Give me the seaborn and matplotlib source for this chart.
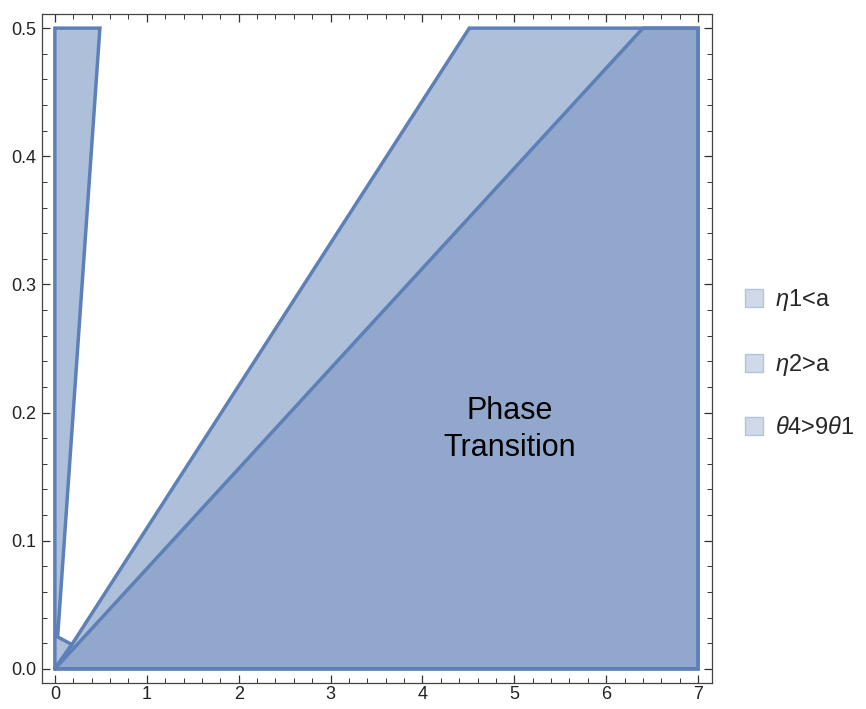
import matplotlib
matplotlib.use("Agg")
import matplotlib.pyplot as plt
from matplotlib.lines import Line2D
from matplotlib.ticker import MultipleLocator
import seaborn as sns

sns.set_style("ticks")
plt.rcParams['font.family'] = ['Liberation Sans', 'DejaVu Sans']
plt.rcParams['mathtext.fontset'] = 'custom'
plt.rcParams['mathtext.it'] = 'Liberation Sans:italic'
plt.rcParams['mathtext.rm'] = 'Liberation Sans'

# Region boundaries (x, y vertices)
eta1_x = [0.0, 0.0, 0.49, 0.03, 0.185, 0.0]
eta1_y = [0.0, 0.5, 0.5, 0.025, 0.019, 0.0]
eta2_x = [0.0, 0.185, 4.51, 7.0, 7.0, 0.0]
eta2_y = [0.0, 0.019, 0.5, 0.5, 0.0, 0.0]
theta_x = [0.0, 6.40, 7.0, 7.0, 0.0]
theta_y = [0.0, 0.5, 0.5, 0.0, 0.0]

labels = [r"$\eta$1<a", r"$\eta$2>a", r"$\theta$4>9$\theta$1"]
annotation = "Phase\nTransition"
ann_x, ann_y = 4.95, 0.187

fill_c = "#829dc6"
edge_c = "#5d80b8"

fig = plt.figure(figsize=(8.66, 7.09), dpi=100)
ax = fig.add_axes([0.0485, 0.0367, 0.7735, 0.9435])

for xs, ys in [(eta1_x, eta1_y), (eta2_x, eta2_y), (theta_x, theta_y)]:
    ax.fill(xs, ys, facecolor=fill_c, alpha=0.65, edgecolor="none", zorder=2)
for xs, ys in [(eta1_x, eta1_y), (eta2_x, eta2_y), (theta_x, theta_y)]:
    ax.plot(xs, ys, color=edge_c, lw=2.5, solid_joinstyle="miter", zorder=3)

ax.text(ann_x, ann_y, annotation, ha="center", va="center", fontsize=22,
        linespacing=1.3, color="black", zorder=4)

ax.set_xlim(-0.14, 7.15)
ax.set_ylim(-0.011, 0.511)
ax.xaxis.set_major_locator(MultipleLocator(1))
ax.xaxis.set_minor_locator(MultipleLocator(0.2))
ax.yaxis.set_major_locator(MultipleLocator(0.1))
ax.yaxis.set_minor_locator(MultipleLocator(0.02))
ax.yaxis.set_major_formatter(matplotlib.ticker.FormatStrFormatter('%.1f'))
ax.tick_params(which="both", direction="in", top=True, right=True,
               color="#333333", labelsize=13, labelcolor="#222222")
ax.tick_params(which="major", length=6, width=0.9, pad=4)
ax.tick_params(axis="x", which="major", pad=2)
ax.tick_params(which="minor", length=3.5, width=0.7)
for s in ax.spines.values():
    s.set_color("#444444")
    s.set_linewidth(0.9)

handles = [Line2D([], [], marker="s", ls="none", markersize=13.5,
                  markerfacecolor="#cfd9ea", markeredgecolor="#b3c3de",
                  markeredgewidth=1.0) for _ in labels]
fig.legend(handles, labels, loc="center left", bbox_to_anchor=(0.857, 0.488),
           frameon=False, fontsize=17, labelspacing=1.65, handletextpad=0.4,
           handlelength=1.0, borderaxespad=0, borderpad=0)

fig.savefig("out.png", dpi=100)
